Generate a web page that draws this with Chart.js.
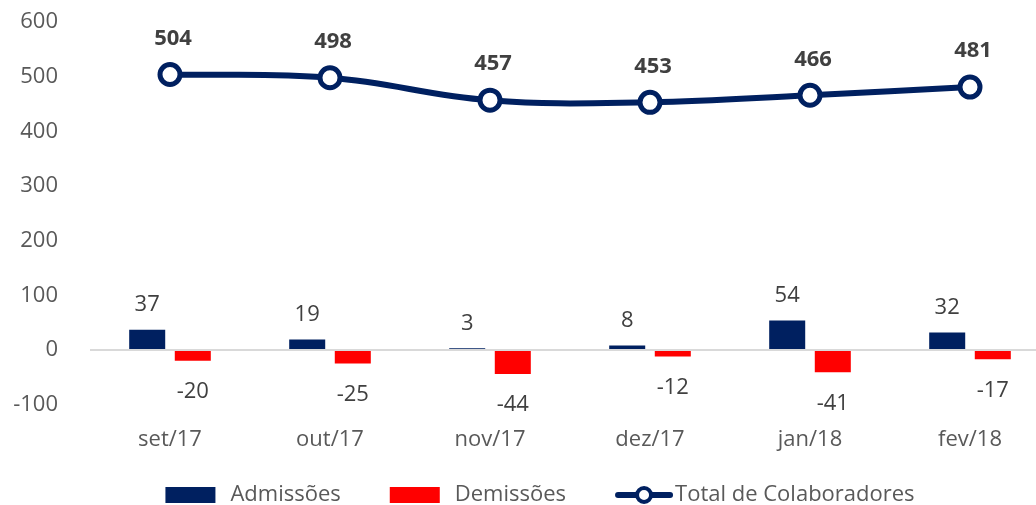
<!DOCTYPE html>
<html>
<head>
<meta charset="utf-8">
<script src="https://cdn.jsdelivr.net/npm/chart.js@4/dist/chart.umd.min.js"></script>
<style>
  html, body { margin: 0; padding: 0; background: #fff; overflow: hidden; }
  #wrap { width: 1080px; height: 505px; }
</style>
</head>
<body>
<div id="wrap"><canvas id="chart" width="1080" height="505"></canvas></div>
<script>
/* ================================
   Data
================================ */
const categories = ["set/17", "out/17", "nov/17", "dez/17", "jan/18", "fev/18"];
const admissoes = [37, 19, 3, 8, 54, 32];
const demissoes = [-20, -25, -44, -12, -41, -17];
const totalColaboradores = [504, 498, 457, 453, 466, 481];
const yTicks = [-100, 0, 100, 200, 300, 400, 500, 600];

const NAVY = "#002060";
const RED = "#FF0000";
const FONT = "'Open Sans', 'Noto Sans', sans-serif";

/* ================================
   Value labels plugin
================================ */
const valueLabels = {
  id: "valueLabels",
  afterDatasetsDraw(chart) {
    const { ctx } = chart;
    ctx.save();
    ctx.textAlign = "center";
    ctx.textBaseline = "middle";
    chart.data.datasets.forEach((ds, i) => {
      const meta = chart.getDatasetMeta(i);
      meta.data.forEach((el, j) => {
        const v = ds.data[j];
        ctx.fillStyle = "#404040";
        if (ds.type === "line") {
          ctx.font = "bold 22px " + FONT;
          ctx.fillText(String(v), el.x + 3, el.y - 36);
        } else {
          ctx.font = "22px " + FONT;
          if (v >= 0) {
            ctx.fillText(String(v), el.x, el.y - 25);
          } else {
            ctx.fillText(String(v), el.x, el.y + 31);
          }
        }
      });
    });
    ctx.restore();
  }
};

/* ================================
   Legend (drawn below the axis)
================================ */
const bottomLegend = {
  id: "bottomLegend",
  afterDraw(chart) {
    const { ctx } = chart;
    const y = 495;
    ctx.save();
    ctx.font = "22px " + FONT;
    ctx.textBaseline = "middle";

    const items = [1, 2, 0].map(i => chart.data.datasets[i]);
    const iconW = [50, 50, 58];
    const textGap = [15, 15, 2];
    const itemGap = 49;
    const widths = items.map((ds, k) => iconW[k] + textGap[k] + ctx.measureText(ds.label).width);
    const total = widths.reduce((a, b) => a + b, 0) + itemGap * (items.length - 1);
    let x = chart.width / 2 - total / 2;

    items.forEach((ds, k) => {
      if (ds.type === "line") {
        ctx.strokeStyle = ds.borderColor;
        ctx.lineWidth = 6;
        ctx.lineCap = "round";
        ctx.beginPath();
        ctx.moveTo(x + 3, y);
        ctx.lineTo(x + iconW[k] - 3, y);
        ctx.stroke();
        ctx.beginPath();
        ctx.arc(x + iconW[k] / 2, y, 7, 0, Math.PI * 2);
        ctx.fillStyle = "#fff";
        ctx.fill();
        ctx.lineWidth = 4;
        ctx.stroke();
      } else {
        ctx.fillStyle = ds.backgroundColor;
        ctx.fillRect(x, y - 8, iconW[k], 16);
      }
      ctx.fillStyle = "#595959";
      ctx.fillText(ds.label, x + iconW[k] + textGap[k], y);
      x += widths[k] + itemGap;
    });
    ctx.restore();
  }
};

/* ================================
   Chart
================================ */
new Chart(document.getElementById("chart"), {
  data: {
    labels: categories,
    datasets: [
      {
        type: "line",
        label: "Total de Colaboradores",
        data: totalColaboradores,
        borderColor: NAVY,
        borderWidth: 6,
        tension: 0.4,
        pointRadius: 10,
        pointBorderWidth: 5,
        pointBackgroundColor: "#fff",
        pointBorderColor: NAVY,
        order: 0
      },
      {
        type: "bar",
        label: "Admissões",
        data: admissoes,
        backgroundColor: NAVY,
        categoryPercentage: 0.57,
        barPercentage: 0.79,
        order: 1
      },
      {
        type: "bar",
        label: "Demissões",
        data: demissoes,
        backgroundColor: RED,
        categoryPercentage: 0.57,
        barPercentage: 0.79,
        order: 1
      }
    ]
  },
  options: {
    responsive: false,
    animation: false,
    layout: { padding: { top: 22, right: 30, left: 0, bottom: 38 } },
    scales: {
      x: {
        grid: { display: false },
        border: { display: false },
        ticks: { color: "#595959", font: { family: FONT, size: 22 }, padding: 14 }
      },
      y: {
        min: -100,
        max: 600,
        afterBuildTicks(scale) {
          scale.ticks = yTicks.map(v => ({ value: v }));
        },
        afterFit(scale) { scale.width = 90; },
        grid: {
          drawTicks: true,
          tickLength: 32,
          tickColor: "rgba(0,0,0,0)",
          color: ctx => (ctx.tick && ctx.tick.value === 0 ? "#d9d9d9" : "rgba(0,0,0,0)"),
          lineWidth: 2
        },
        border: { display: false },
        ticks: { color: "#595959", font: { family: FONT, size: 22 }, padding: 0 }
      }
    },
    plugins: {
      tooltip: { enabled: false },
      legend: { display: false }
    }
  },
  plugins: [valueLabels, bottomLegend]
});
</script>
</body>
</html>
